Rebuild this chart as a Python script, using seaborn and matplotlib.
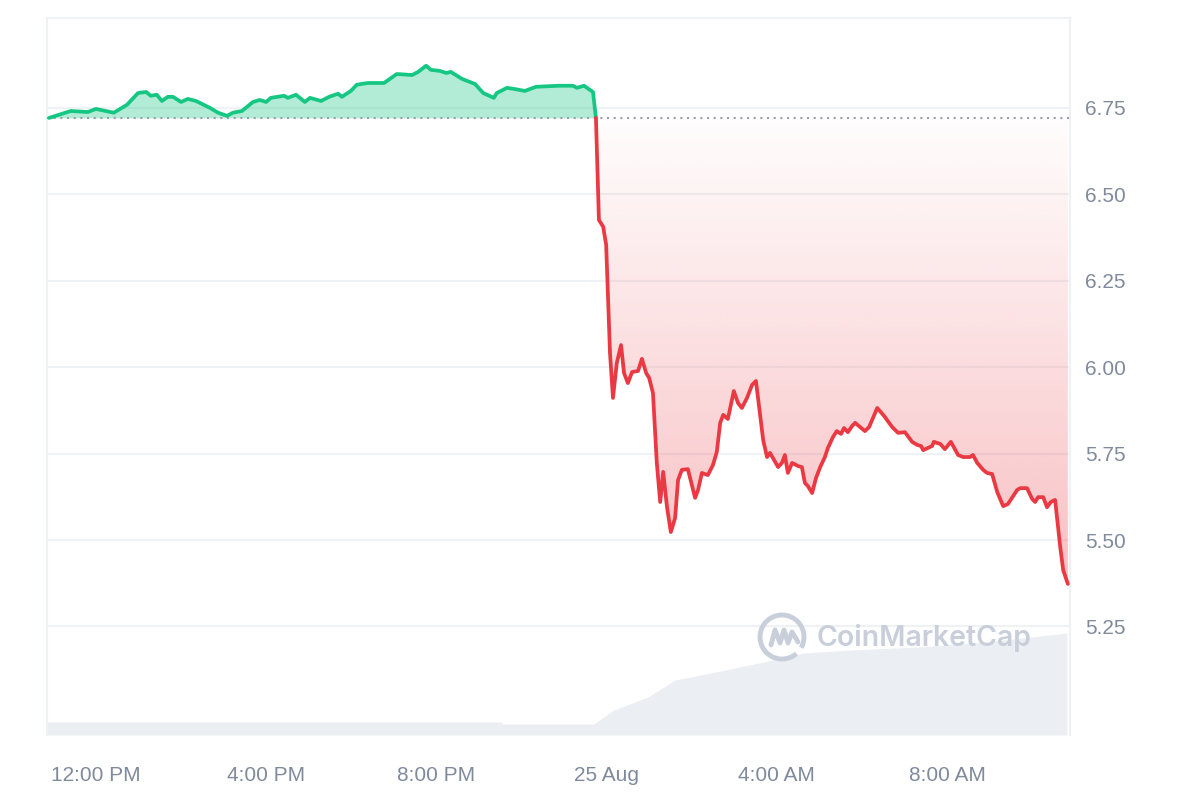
import numpy as np
import pandas as pd
import matplotlib
matplotlib.use("Agg")
import matplotlib.pyplot as plt
import matplotlib.dates as mdates
from matplotlib.patches import PathPatch, Arc
from matplotlib.lines import Line2D
from matplotlib.colors import to_rgb
import seaborn as sns

# ---- data (hours since 24 Aug 00:00, price in USD) ----
BASE_PRICE = 6.721

green_hours = [10.90, 11.41, 11.81, 12.00, 12.42, 12.73, 12.99, 13.18, 13.29, 13.43,
               13.55, 13.69, 13.81, 14.00, 14.16, 14.35, 14.68, 14.87, 15.08, 15.22,
               15.43, 15.69, 15.85, 16.00, 16.11, 16.42, 16.51, 16.70, 16.91, 17.03,
               17.29, 17.48, 17.69, 17.78, 17.99, 18.13, 18.39, 18.77, 19.07, 19.43,
               19.57, 19.76, 19.87, 20.08, 20.23, 20.34, 20.60, 20.91, 21.10, 21.35,
               21.42, 21.66, 21.82, 22.08, 22.34, 22.88, 23.21, 23.30, 23.47, 23.68,
               23.75]
green_price = [6.721, 6.741, 6.738, 6.747, 6.736, 6.759, 6.793, 6.796, 6.785, 6.788,
               6.770, 6.782, 6.782, 6.767, 6.776, 6.770, 6.750, 6.736, 6.727, 6.736,
               6.741, 6.767, 6.773, 6.767, 6.779, 6.785, 6.779, 6.788, 6.767, 6.779,
               6.770, 6.782, 6.791, 6.782, 6.799, 6.817, 6.822, 6.822, 6.848, 6.845,
               6.854, 6.872, 6.860, 6.857, 6.851, 6.854, 6.834, 6.819, 6.793, 6.779,
               6.793, 6.808, 6.805, 6.799, 6.811, 6.814, 6.814, 6.808, 6.814, 6.796,
               6.721]

red_hours = [23.75, 23.82, 23.92, 23.99, 24.08, 24.15, 24.24, 24.34, 24.41, 24.50,
             24.60, 24.74, 24.83, 24.93, 25.00, 25.09, 25.18, 25.26, 25.33, 25.42,
             25.51, 25.61, 25.68, 25.77, 25.91, 26.08, 26.15, 26.24, 26.38, 26.50,
             26.59, 26.67, 26.74, 26.85, 26.99, 27.09, 27.18, 27.30, 27.42, 27.51,
             27.68, 27.77, 27.84, 27.91, 28.03, 28.12, 28.19, 28.26, 28.36, 28.50,
             28.59, 28.66, 28.73, 28.83, 28.92, 29.02, 29.13, 29.20, 29.32, 29.41,
             29.51, 29.58, 29.67, 29.77, 29.84, 30.07, 30.17, 30.36, 30.52, 30.71,
             30.85, 31.01, 31.18, 31.30, 31.39, 31.44, 31.65, 31.69, 31.84, 31.95,
             32.09, 32.26, 32.38, 32.54, 32.61, 32.71, 32.85, 32.94, 33.06, 33.18,
             33.32, 33.43, 33.65, 33.72, 33.88, 34.00, 34.07, 34.14, 34.26, 34.35,
             34.44, 34.54, 34.66, 34.73, 34.84]
red_price = [6.721, 6.426, 6.406, 6.354, 6.041, 5.911, 6.012, 6.064, 5.983, 5.954,
             5.986, 5.989, 6.024, 5.983, 5.969, 5.925, 5.723, 5.610, 5.697, 5.595,
             5.523, 5.564, 5.674, 5.703, 5.705, 5.622, 5.645, 5.694, 5.688, 5.717,
             5.755, 5.839, 5.862, 5.850, 5.931, 5.896, 5.882, 5.911, 5.949, 5.960,
             5.789, 5.740, 5.752, 5.737, 5.711, 5.723, 5.746, 5.694, 5.723, 5.714,
             5.711, 5.665, 5.656, 5.636, 5.679, 5.711, 5.740, 5.766, 5.798, 5.815,
             5.807, 5.824, 5.812, 5.830, 5.839, 5.815, 5.827, 5.882, 5.859, 5.827,
             5.810, 5.812, 5.784, 5.775, 5.772, 5.760, 5.772, 5.784, 5.778, 5.763,
             5.784, 5.746, 5.740, 5.740, 5.746, 5.723, 5.703, 5.694, 5.691, 5.639,
             5.598, 5.604, 5.645, 5.650, 5.650, 5.619, 5.610, 5.624, 5.624, 5.595,
             5.610, 5.616, 5.480, 5.413, 5.373]

vol_hours = [10.85, 21.52, 21.54, 23.70, 24.17, 24.97, 25.61, 26.57, 27.68, 28.62,
             29.74, 31.32, 32.92, 34.82]
vol_values = [1.3, 1.3, 1.1, 1.1, 2.5, 3.8, 5.5, 6.3, 7.3, 8.2,
              8.5, 8.8, 9.3, 10.2]  # millions

tick_hours = [12, 16, 20, 24, 28, 32]
tick_labels = ["12:00 PM", "4:00 PM", "8:00 PM", "25 Aug", "4:00 AM", "8:00 AM"]
y_ticks = [5.25, 5.50, 5.75, 6.00, 6.25, 6.50, 6.75]

DAY0 = pd.Timestamp("2024-08-24")


def to_time(hours):
    return DAY0 + pd.to_timedelta(np.array(hours), unit="h")


green_df = pd.DataFrame({"time": to_time(green_hours), "price": green_price})
red_df = pd.DataFrame({"time": to_time(red_hours), "price": red_price})
vol_df = pd.DataFrame({"time": to_time(vol_hours), "volume": vol_values})

GREEN = "#16c784"
RED = "#ea3943"
TEXT = "#808a9d"
GRID = "#eff2f5"

sns.set_theme(style="white")
plt.rcParams["font.family"] = ["Liberation Sans", "DejaVu Sans"]

fig = plt.figure(figsize=(12, 8), dpi=100)
rect = [47 / 1200, 65 / 800, 1023 / 1200, 717 / 800]
ax = fig.add_axes(rect)
ax_vol = ax.twinx()
ax.set_zorder(ax_vol.get_zorder() + 1)
ax.patch.set_visible(False)

# volume area at the bottom
ax_vol.fill_between(vol_df["time"], vol_df["volume"], 0, color="#ebeef3", lw=0)
ax_vol.set_ylim(0, 71.7)
ax_vol.set_yticks([])
for s in ax_vol.spines.values():
    s.set_visible(False)

# green fill above the opening price
ax.fill_between(green_df["time"], green_df["price"], BASE_PRICE,
                color=GREEN, alpha=0.33, lw=0, zorder=1)

# red gradient fill below the opening price
poly = ax.fill_between(red_df["time"], red_df["price"], BASE_PRICE,
                       color="none", lw=0)
clip = PathPatch(poly.get_paths()[0], transform=ax.transData,
                 facecolor="none", edgecolor="none")
ax.add_patch(clip)
r, g, b = to_rgb(RED)
grad = np.zeros((256, 1, 4))
grad[:, 0, 0], grad[:, 0, 1], grad[:, 0, 2] = r, g, b
grad[:, 0, 3] = np.linspace(0.01, 0.32, 256)
xnum = mdates.date2num(red_df["time"])
img = ax.imshow(grad, extent=[xnum[0], xnum[-1], min(red_price), BASE_PRICE],
                origin="upper", aspect="auto", zorder=1, interpolation="bilinear")
img.set_clip_path(clip)

# price lines
sns.lineplot(data=green_df, x="time", y="price", color=GREEN, lw=2.7, ax=ax,
             zorder=4, solid_joinstyle="round")
sns.lineplot(data=red_df, x="time", y="price", color=RED, lw=2.7, ax=ax,
             zorder=4, solid_joinstyle="round")

ax.axhline(BASE_PRICE, color="#9a9fa8", lw=1.5, linestyle=(0, (1, 2.2)), zorder=3)

ax.set_xlim(to_time([10.85])[0], to_time([34.89])[0])
ax.set_ylim(4.936, 7.010)

ax.set_xticks(to_time(tick_hours))
ax.set_xticklabels(tick_labels)
ax.set_yticks(y_ticks)
ax.set_yticklabels([f"{v:.2f}" for v in y_ticks])
ax.yaxis.tick_right()
ax.tick_params(axis="x", length=0, pad=22, labelsize=15, labelcolor=TEXT)
ax.tick_params(axis="y", length=0, pad=11, labelsize=15, labelcolor=TEXT)
ax.grid(axis="y", color=GRID, lw=1.5)
ax.grid(axis="x", visible=False)
ax.set_axisbelow(True)
ax.set_xlabel("")
ax.set_ylabel("")

for name, s in ax.spines.items():
    s.set_color(GRID)
    s.set_linewidth(1.5)
ax.spines["bottom"].set_visible(False)

# watermark
WM = "#c8cfda"
fig.text(817 / 1200, 1 - 638 / 800, "CoinMarketCap", fontsize=20.5,
         fontweight="semibold", family=["Inter", "DejaVu Sans"],
         color=WM, ha="left", va="center", zorder=10)
fig.add_artist(Arc((782 / 1200, 1 - 637 / 800), 44 / 1200, 44 / 800,
                   theta1=-40, theta2=300, color=WM, lw=3.5,
                   transform=fig.transFigure, zorder=10))
mx = np.array([-11, -7, -2, 2, 6, 10, 16]) + 782
my = np.array([8, -7, 6, -7, 6, -5, 5]) + 637
fig.add_artist(Line2D(mx / 1200, 1 - my / 800, color=WM, lw=3.5,
                      solid_joinstyle="round", transform=fig.transFigure, zorder=10))

fig.savefig("out.png", dpi=100, facecolor="white")
